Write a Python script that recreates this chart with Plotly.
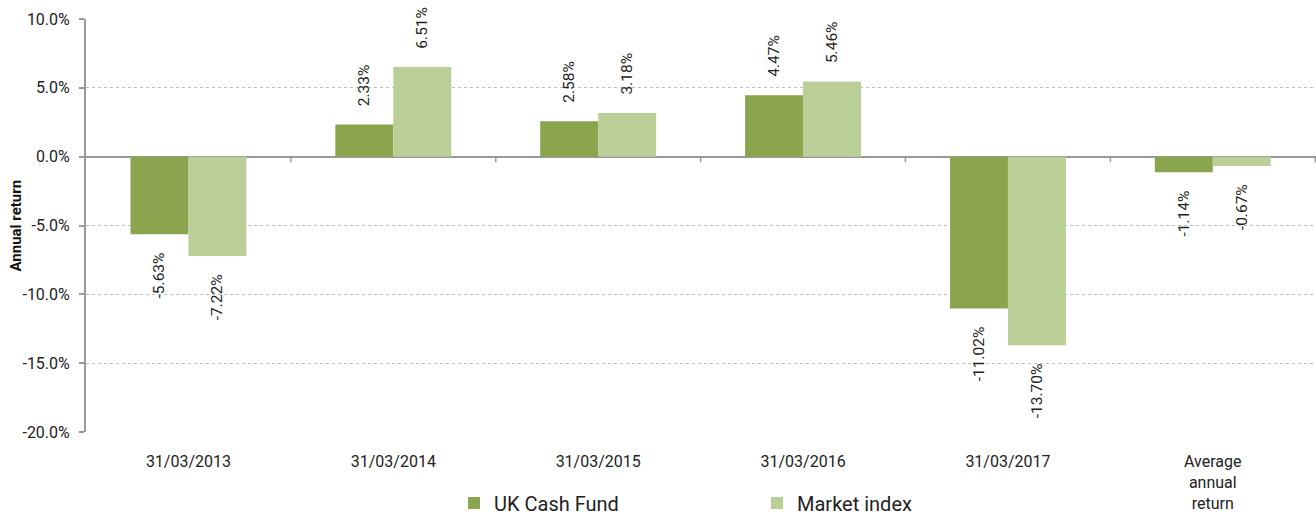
import plotly.graph_objects as go

categories = ["31/03/2013", "31/03/2014", "31/03/2015", "31/03/2016", "31/03/2017", "Average<br>annual<br>return"]
uk_cash_fund = [-5.63, 2.33, 2.58, 4.47, -11.02, -1.14]
market_index = [-7.22, 6.51, 3.18, 5.46, -13.70, -0.67]
y_ticks = [10, 5, 0, -5, -10, -15, -20]

DARK = "#8aa54d"
LIGHT = "#bacf97"
FONT = "Roboto"
NB = "\u00a0" * 4


def label(v):
    s = f"{v:.2f}%"
    return NB + s if v >= 0 else s + NB


fig = go.Figure()
for name, vals, col in [("UK Cash Fund", uk_cash_fund, DARK), ("Market index", market_index, LIGHT)]:
    fig.add_trace(go.Bar(
        x=categories, y=vals, name=name, marker=dict(color=col, line=dict(width=0)),
        text=[label(v) for v in vals],
        textposition="outside", textangle=-90, constraintext="none",
        textfont=dict(family=FONT, size=15.5, color="#222222"),
        cliponaxis=False,
    ))

# small tick marks on the zero line between categories
for i in range(len(categories)):
    fig.add_shape(type="line", x0=i + 0.5, x1=i + 0.5, y0=0, y1=-0.4,
                  xref="x", yref="y", line=dict(color="#999999", width=1.5))

# y-axis title
fig.add_annotation(text="<b>Annual return</b>", xref="paper", yref="paper",
                   x=-(86 - 15) / 1230, y=0.5, xanchor="center", yanchor="middle",
                   textangle=-90, showarrow=False,
                   font=dict(family=FONT, size=15, color="#111111"))

fig.update_layout(
    width=1316, height=516,
    margin=dict(l=86, r=0, t=19, b=84, autoexpand=False),
    plot_bgcolor="white", paper_bgcolor="white",
    barmode="group", bargap=0.434, bargroupgap=0,
    font=dict(family=FONT, size=16, color="#222222"),
    showlegend=True,
    legend=dict(orientation="h", xref="container", yref="container", x=0.345, y=0.025,
                xanchor="left", yanchor="middle", entrywidth=258, itemwidth=30,
                font=dict(family=FONT, size=20, color="#222222"), traceorder="normal"),
    uniformtext=dict(mode=False),
)
fig.update_xaxes(showgrid=False, showline=False, ticks="", tickfont=dict(size=16),
                 zeroline=False, ticklabelstandoff=18, automargin=False)
fig.update_yaxes(range=[-20, 10], tickvals=y_ticks, ticktext=[f"{v:.1f}%" for v in y_ticks],
                 showgrid=True, gridcolor="#bbbbbb", griddash="dot", gridwidth=1,
                 zeroline=True, zerolinecolor="#999999", zerolinewidth=2,
                 showline=True, linecolor="#999999", linewidth=2,
                 ticks="outside", ticklen=5, tickcolor="#999999", tickwidth=1.5,
                 tickfont=dict(size=16), ticklabelstandoff=6, automargin=False)

fig.write_html("out.html")
